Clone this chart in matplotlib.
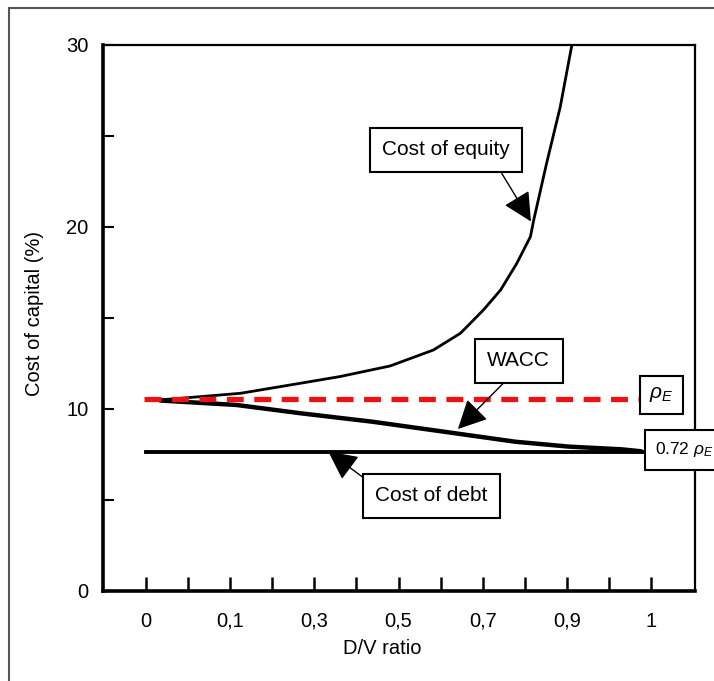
import matplotlib.pyplot as plt
from matplotlib.patches import Rectangle

plt.rcParams['font.family'] = ['Liberation Sans', 'DejaVu Sans']
plt.rcParams['mathtext.fontset'] = 'custom'
plt.rcParams['mathtext.it'] = 'Liberation Sans:italic'
plt.rcParams['mathtext.rm'] = 'Liberation Sans'

# values (x = D/V ratio, y = cost of capital in %)
rho_e = 10.57
cost_of_debt = 7.66

equity_x = [0.018, 0.083, 0.187, 0.286, 0.384, 0.483, 0.569, 0.6225, 0.668, 0.702,
            0.734, 0.761, 0.7675, 0.793, 0.82, 0.843]
equity_y = [10.48, 10.62, 10.86, 11.32, 11.78, 12.36, 13.24, 14.16, 15.44, 16.54,
            18.0, 19.47, 20.38, 23.5, 26.6, 30.0]

wacc_x = [0.031, 0.179, 0.307, 0.448, 0.59, 0.731, 0.8375, 0.9425, 0.978]
wacc_y = [10.46, 10.22, 9.76, 9.30, 8.75, 8.20, 7.93, 7.78, 7.68]

debt_x = [0.0, 0.99]
rho_x = [-0.004, 0.978]

tick_pos = [i / 12 for i in range(13)]
tick_labels = ['0', '', '0,1', '', '0,3', '', '0,5', '', '0,7', '', '0,9', '', '1']

fig = plt.figure(figsize=(7.14, 6.81), dpi=100)
ax = fig.add_axes([0.1436, 0.1322, 0.8298, 0.8018])

# gray outer frame (only top and left edge visible)
fig.add_artist(Rectangle((0.0126, -0.1), 1.2, 1.088, transform=fig.transFigure,
                         fill=False, edgecolor='#555555', linewidth=1.5))

ax.plot(equity_x, equity_y, color='black', linewidth=2.0)
ax.plot(wacc_x, wacc_y, color='black', linewidth=3.2)
ax.plot(debt_x, [cost_of_debt, cost_of_debt], color='black', linewidth=2.8)
ax.plot(rho_x, [rho_e, rho_e], color='#ee1111', linewidth=3.8, dashes=(3.2, 2.0))

ax.set_xlim(-1.03 / 12, 13.04 / 12)
ax.set_ylim(0, 30)
ax.set_xticks(tick_pos)
ax.set_xticklabels(tick_labels)
ax.set_yticks([0, 10, 20, 30])
ax.set_yticks([5, 15, 25], minor=True)

ax.tick_params(axis='x', direction='in', length=10, width=1.8, pad=15, labelsize=14.5)
ax.tick_params(axis='y', which='both', direction='in', length=8, width=1.5, pad=10, labelsize=14.5)

for side in ['left', 'bottom']:
    ax.spines[side].set_linewidth(2.6)
for side in ['top', 'right']:
    ax.spines[side].set_linewidth(1.6)

ax.set_xlabel('D/V ratio', fontsize=14.5)
ax.xaxis.set_label_coords(0.4726, -0.088)
ax.set_ylabel('Cost of capital (%)', fontsize=14.5)
ax.yaxis.set_label_coords(-0.099, 0.509)

box = dict(boxstyle='square,pad=0.6', facecolor='white', edgecolor='black', linewidth=1.5)
arrow = dict(arrowstyle='-|>,head_length=0.9,head_width=0.45', color='black',
             linewidth=1.0, mutation_scale=20, shrinkA=0, shrinkB=0)

ax.annotate('Cost of equity', xy=(0.762, 20.3), xytext=(0.594, 24.23),
            ha='center', va='center', fontsize=15, bbox=box,
            arrowprops=dict(arrow, relpos=(0.87, 0)))
ax.annotate('WACC', xy=(0.6175, 8.9), xytext=(0.7375, 12.64),
            ha='center', va='center', fontsize=15, bbox=box,
            arrowprops=dict(arrow, relpos=(0.46, 0)))
ax.annotate('Cost of debt', xy=(0.361, 7.66), xytext=(0.565, 5.22),
            ha='center', va='center', fontsize=15, bbox=box,
            arrowprops=dict(arrow, relpos=(0.0, 1.0)))

ax.text(1.02, 10.77, r'$\rho_E$', ha='center', va='center', fontsize=15,
        bbox=dict(box, boxstyle='square,pad=0.45'), clip_on=False)
ax.text(1.008, 7.75, r'0.72 $\rho_E$', ha='left', va='center', fontsize=12.5,
        bbox=dict(box, boxstyle='square,pad=0.6'), clip_on=False)

fig.savefig('out.png', dpi=100)
